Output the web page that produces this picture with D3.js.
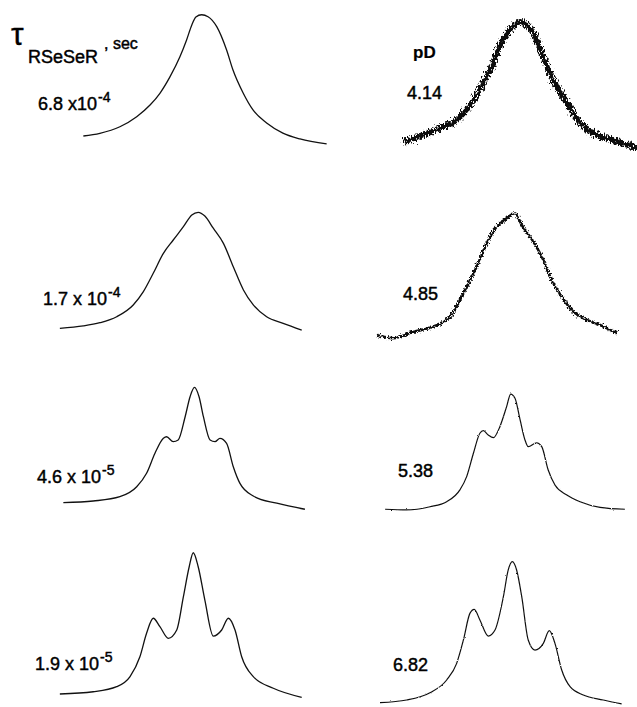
<!DOCTYPE html>
<html><head><meta charset="utf-8">
<script src="https://cdn.jsdelivr.net/npm/d3@7"></script>
<style>
html,body{margin:0;padding:0;background:#fff;}
svg{display:block;}
text{font-family:"Liberation Sans",Arial,sans-serif;fill:#000;stroke:#000;stroke-width:0.45px;}
</style></head>
<body>
<script>
// ---- data (x: relative frequency units 0-100, y: intensity arb. units) ----
const tauMantissa = ["6.8", "1.7", "4.6", "1.9"];
const tauTimes = [" x10", " x 10", " x 10", " x 10"];
const tauExponent = ["-4", "-4", "-5", "-5"];
const pDValues = ["4.14", "4.85", "5.38", "6.82"];

// simulated spectra (left column)
const sim68e4 = [[11.5,10.0],[17.2,11.9],[24.1,16.6],[29.9,23.8],[34.5,32.1],[37.9,40.5],[41.4,52.4],[44.8,66.6],[47.1,78.6],[48.9,89.3],[50.3,95.0],[52.3,96.6],[54.5,95.2],[57.5,88.1],[60.9,71.4],[63.1,57.1],[66.6,40.7],[70.0,28.6],[74.7,19.3],[80.3,12.1],[86.2,7.9],[95.4,4.3]];
const sim17e4 = [[3.4,11.9],[11.5,13.6],[17.2,15.9],[23.0,20.2],[28.7,28.6],[32.2,38.1],[35.6,51.2],[39.1,65.5],[42.5,75.0],[46.0,84.5],[48.9,92.9],[51.1,94.8],[53.4,92.1],[56.3,83.4],[59.8,72.6],[63.2,55.9],[66.7,39.3],[70.1,28.6],[74.7,20.2],[80.4,15.5],[86.8,10.7]];
const sim46e5 = [[4.6,8.8],[14.9,10.0],[24.1,13.1],[29.9,20.2],[33.3,29.8],[36.2,44.1],[39.1,54.8],[40.2,55.9],[42.5,52.4],[44.2,53.6],[46.6,70.2],[48.3,84.5],[49.8,91.2],[51.4,84.5],[52.9,70.2],[55.2,53.6],[56.9,52.4],[58.6,54.8],[60.9,51.2],[63.2,34.5],[65.5,22.6],[70.1,13.6],[78.2,8.4],[87.9,4.1]];
const sim19e5 = [[3.4,10.0],[14.9,11.6],[23.0,15.2],[27.6,22.4],[31.0,36.6],[33.3,53.4],[35.6,64.1],[37.9,58.1],[40.8,49.8],[43.7,55.7],[46.0,79.5],[48.0,100.9],[49.4,110.9],[51.1,100.9],[53.4,77.1],[56.3,51.4],[59.2,55.7],[61.5,64.1],[63.8,55.7],[66.1,36.6],[70.1,22.4],[77.0,14.1],[86.8,7.6]];

// observed spectra (right column)
const obs414 = [[12.3,5.9],[19.7,10.7],[25.9,15.7],[32.1,21.4],[38.3,35.7],[42.0,47.9],[45.6,62.1],[49.3,78.6],[53.0,88.1],[55.6,91.6],[58.0,89.3],[60.4,83.6],[64.1,66.6],[67.8,50.0],[72.9,33.6],[77.8,19.3],[82.6,12.1],[90.0,7.1],[98.8,1.4]];
const obs485 = [[2.5,7.1],[8.6,4.8],[16.0,9.5],[23.4,13.1],[29.6,20.2],[32.7,29.8],[35.8,41.6],[39.5,55.9],[43.2,72.6],[46.9,84.5],[50.6,90.5],[53.7,94.1],[56.2,85.7],[60.5,73.8],[64.2,60.7],[67.3,46.4],[71.0,34.5],[75.3,23.8],[80.3,17.9],[85.2,14.3],[91.4,8.4]];
const obs538 = [[5.6,4.1],[13.6,3.6],[22.2,5.9],[28.4,9.5],[33.3,17.9],[35.8,27.4],[38.3,44.1],[40.7,58.4],[42.0,60.2],[43.8,57.1],[45.7,55.2],[48.1,63.1],[50.6,77.4],[52.1,86.4],[53.7,83.4],[55.6,67.9],[57.4,53.6],[58.6,48.8],[61.7,51.6],[63.6,48.8],[66.0,32.1],[68.5,21.4],[72.9,14.3],[77.8,9.5],[85.2,5.5],[94.4,4.1]];
const obs682 = [[3.7,3.8],[13.6,5.7],[22.2,10.9],[28.4,20.0],[32.1,31.9],[34.6,48.6],[37.0,67.6],[38.6,70.5],[40.7,62.9],[43.8,51.4],[46.3,55.7],[49.4,79.5],[51.2,98.6],[52.7,104.5],[54.3,98.6],[56.2,79.5],[58.6,48.6],[61.1,41.4],[64.2,46.2],[66.4,55.2],[68.5,46.2],[71.0,27.1],[74.1,15.2],[79.0,9.3],[86.4,5.7],[93.2,2.9]];

const simulated = [sim68e4, sim17e4, sim46e5, sim19e5];
const observed = [obs414, obs485, obs538, obs682];

// ---- layout ----
const W = 637, H = 707;
const rowBase = [150, 345, 515, 708];
const rowHeight = 140;
const leftRange = [50, 340], rightRange = [370, 640];
const tauLabelPos = [[38,110],[43,305],[37,483],[35,670]];
const pDLabelPos = [[407,99],[403,300],[398,477],[393,671]];
const obsStyle = [{w:5.6, f:"n1"},{w:2.6, f:"n2"},{w:1.2, f:"n3"},{w:1.2, f:"n3"}];

const svg = d3.select("body").append("svg").attr("width", W).attr("height", H);

const defs = svg.append("defs");
function noise(id, freq, scale, seed){
  const f = defs.append("filter").attr("id", id)
    .attr("x","-10%").attr("y","-20%").attr("width","120%").attr("height","140%");
  f.append("feTurbulence").attr("type","fractalNoise").attr("baseFrequency",freq)
    .attr("numOctaves",2).attr("seed",seed).attr("result","t");
  f.append("feDisplacementMap").attr("in","SourceGraphic").attr("in2","t")
    .attr("scale",scale).attr("xChannelSelector","R").attr("yChannelSelector","G");
}
noise("n1", "1.3 0.35", 10, 2);
noise("n2", "1.0 0.4", 7, 5);
noise("n3", "0.6 0.6", 1.8, 7);

const xLeft = d3.scaleLinear().domain([0,100]).range(leftRange);
const xRight = d3.scaleLinear().domain([0,100]).range(rightRange);

rowBase.forEach((b, i) => {
  const y = d3.scaleLinear().domain([0,100]).range([b, b - rowHeight]);
  const lineL = d3.line().x(d => xLeft(d[0])).y(d => y(d[1])).curve(d3.curveMonotoneX);
  const lineR = d3.line().x(d => xRight(d[0])).y(d => y(d[1])).curve(d3.curveMonotoneX);
  svg.append("path").datum(simulated[i]).attr("d", lineL)
    .attr("fill","none").attr("stroke","#111").attr("stroke-width",1.3);
  svg.append("path").datum(observed[i]).attr("d", lineR)
    .attr("fill","none").attr("stroke","#111").attr("stroke-width",obsStyle[i].w)
    .attr("filter", `url(#${obsStyle[i].f})`);

  const t = svg.append("text").attr("x", tauLabelPos[i][0]).attr("y", tauLabelPos[i][1])
    .attr("font-size", 18);
  t.append("tspan").text(tauMantissa[i] + tauTimes[i]);
  t.append("tspan").attr("dx", 1).attr("dy", -8).attr("font-size", 14).text(tauExponent[i]);

  svg.append("text").attr("x", pDLabelPos[i][0]).attr("y", pDLabelPos[i][1])
    .attr("font-size", 18).text(pDValues[i]);
});

// header labels
svg.append("text").attr("x", 11).attr("y", 45).attr("font-size", 32)
  .attr("font-family","'DejaVu Serif',serif").style("stroke-width","0.3px").text("τ");
svg.append("text").attr("x", 28).attr("y", 63).attr("font-size", 18).text("RSeSeR");
svg.append("text").attr("x", 104).attr("y", 49).attr("font-size", 16).text(", sec");
svg.append("text").attr("x", 413).attr("y", 58).attr("font-size", 17).attr("font-weight","bold")
  .style("stroke-width","0.2px").text("pD");
</script>
</body></html>
